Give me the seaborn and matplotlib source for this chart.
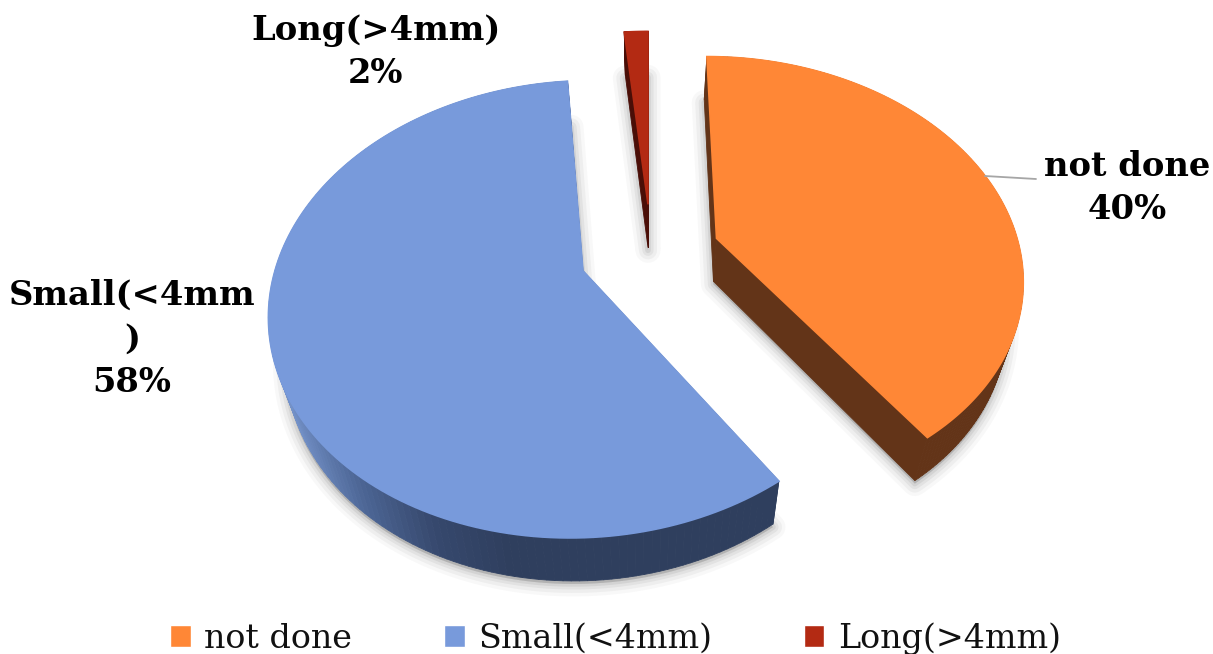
import numpy as np
import matplotlib
matplotlib.use('Agg')
import matplotlib.pyplot as plt
from matplotlib.collections import PolyCollection
from matplotlib.patches import Patch
import seaborn as sns

# Slices, clockwise from 12 o'clock
categories = ['not done', 'Small(<4mm)', 'Long(>4mm)']
wrapped_names = ['not done', 'Small(<4mm\n)', 'Long(>4mm)']
percent = [40.2, 58.3, 1.5]

colors = ['#FF8736', '#789ADB', '#B32A13']
wall_colors = ['#633418', '#2F3F5E', '#4A0E07']

# Explode offsets in the plane of the pie, radius = 1
explode = {'not done': (0.228, 0.05), 'Small(<4mm)': (-0.211, -0.10), 'Long(>4mm)': (0.0, 0.215)}
label_pos = {'not done': (1127, 188), 'Small(<4mm)': (132, 339), 'Long(>4mm)': (376, 52)}

# Perspective of the tilted pie (pixels)
CX, CY = 648, 249
A, B, K = 215, 303, 0.165
DEPTH = 43

sns.set_theme(style='white')
plt.rcParams['font.family'] = ['DejaVu Serif']


def project(u, v):
    s = 1 + K * v
    return np.column_stack([CX + B * u / s, CY - A * v / s])


def extrude(pts):
    out = pts.copy()
    out[:, 0] = pts[:, 0] - 0.045 * (pts[:, 0] - CX)
    out[:, 1] = pts[:, 1] + DEPTH
    return out


fig, ax = plt.subplots(figsize=(12.13, 6.54), dpi=100)
fig.subplots_adjust(0, 0, 1, 1)
ax.set_xlim(0, 1213)
ax.set_ylim(654, 0)
ax.axis('off')

side_cmap = sns.blend_palette(['#7391C8', '#4C6594', '#36486D', '#2F3F5E', '#2F3F5E'], as_cmap=True)

edges = np.cumsum([0] + percent) / np.sum(percent) * 2 * np.pi
for i, name in enumerate(categories):
    theta = np.linspace(edges[i], edges[i + 1], 160)
    u0, v0 = explode[name]
    u = np.r_[u0, u0 + np.sin(theta)]
    v = np.r_[v0, v0 + np.cos(theta)]
    top = project(u, v)
    bottom = extrude(top)

    # soft shadow around the underside
    for lw, alpha in [(18, 0.04), (13, 0.06), (8, 0.08), (4, 0.10)]:
        ax.fill(bottom[:, 0], bottom[:, 1] + 3, facecolor='#555555', edgecolor='#555555',
                linewidth=lw, alpha=alpha, joinstyle='round', zorder=1)

    # side walls, shaded along x on the big slice
    ring_t = np.r_[np.arange(len(top)), 0]
    quads = [[top[a], top[b], bottom[b], bottom[a]] for a, b in zip(ring_t[:-1], ring_t[1:])]
    if name == 'Small(<4mm)':
        quad_colors = [side_cmap(np.clip((q[0][0] - 285) / 300, 0, 1)) for q in quads]
    else:
        quad_colors = wall_colors[i]
    ax.add_collection(PolyCollection(quads, facecolors=quad_colors, edgecolors=quad_colors,
                                     linewidths=0.6, zorder=2 + i * 0.1))
    ax.fill(top[:, 0], top[:, 1], color=colors[i], linewidth=1.2, zorder=3 + i * 0.1)

# labels
for name, wrapped, pct in zip(categories, wrapped_names, percent):
    x, y = label_pos[name]
    ax.text(x, y, f'{wrapped}\n{pct:.0f}%', ha='center', va='center', fontsize=24.3,
            fontweight='bold', color='black', linespacing=1.42, zorder=5)

# leader line for the "not done" label
ax.plot([985, 1036], [176, 179], color='#A6A6A6', linewidth=1.3, zorder=4)

handles = [Patch(facecolor=c, label=n) for c, n in zip(colors, categories)]
ax.legend(handles=handles, loc='lower center', bbox_to_anchor=(0.5075, -0.047), ncol=3, frameon=False,
          fontsize=24, handlelength=0.62, handleheight=0.62, handletextpad=0.4, columnspacing=2.75,
          labelcolor='#111111')

fig.savefig('out.png', dpi=100)
